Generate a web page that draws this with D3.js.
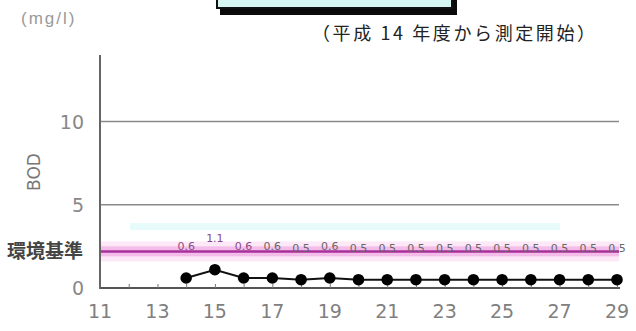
<!DOCTYPE html>
<html><head><meta charset="utf-8">
<script src="https://cdn.jsdelivr.net/npm/d3@7"></script>
<style>
html,body{margin:0;padding:0;background:#fff;}
svg{display:block;}
</style></head>
<body>
<script>
const years = [14,15,16,17,18,19,20,21,22,23,24,25,26,27,28,29];
const bod = [0.6,1.1,0.6,0.6,0.5,0.6,0.5,0.5,0.5,0.5,0.5,0.5,0.5,0.5,0.5,0.5];
const xTicks = [11,13,15,17,19,21,23,25,27,29];
const yTicks = [0,5,10];
const gridValues = [5,10];
const standard = 2.2;
const unitLabel = "(mg/l)";
const yTitle = "BOD";
const standardLabel = "環境基準";
const note = "（平成 14 年度から測定開始）";

const W = 636, H = 331;
const svg = d3.select("body").append("svg").attr("width", W).attr("height", H);

const x = d3.scaleLinear().domain([11,29]).range([100,617]);
const y = d3.scaleLinear().domain([0,14]).range([288,55]);

// title box (cut off at top)
svg.append("rect").attr("x",220).attr("y",-10).attr("width",237).attr("height",25).attr("fill","#0a0a0a");
svg.append("rect").attr("x",217).attr("y",-10).attr("width",235).attr("height",18)
  .attr("fill","#d6f6f2").attr("stroke","#111").attr("stroke-width",2);

// unit
svg.append("text").attr("x",21).attr("y",24).text(unitLabel)
  .attr("font-family","Liberation Sans, sans-serif").attr("font-size",17).attr("letter-spacing",2).attr("fill","#999");

// note
svg.append("text").attr("x",312).attr("y",40).text(note)
  .attr("font-family","Noto Sans CJK JP").attr("font-size",18).attr("letter-spacing",2.6).attr("fill","#222");

// faint background band
svg.append("rect").attr("x",130).attr("width",430).attr("y",y(3.9)).attr("height",7).attr("fill","#e8fbfb");

// grid lines
svg.selectAll(".grid").data(gridValues).enter().append("line")
  .attr("x1",x(11)).attr("x2",x(29)+2).attr("y1",d=>y(d)).attr("y2",d=>y(d))
  .attr("stroke","#8a8a8a").attr("stroke-width",1.5);

// environmental standard
svg.append("rect").attr("x",x(11)).attr("width",x(29)-x(11)+2).attr("y",y(standard)-10).attr("height",20).attr("fill","#fde8f8");
svg.append("rect").attr("x",x(11)).attr("width",x(29)-x(11)+2).attr("y",y(standard)-5).attr("height",10).attr("fill","#f4bde9");
svg.append("line").attr("x1",x(11)).attr("x2",x(29)+2).attr("y1",y(standard)).attr("y2",y(standard))
  .attr("stroke","#a8309a").attr("stroke-width",2.5);
svg.append("text").attr("x",7).attr("y",y(standard)+7).text(standardLabel)
  .attr("font-family","Noto Sans CJK JP").attr("font-weight","bold").attr("font-size",19).attr("fill","#444");

// axes
const xAxis = d3.axisBottom(x).tickValues(d3.range(11,30)).tickSize(-4).tickFormat("");
svg.append("g").attr("transform",`translate(0,${y(0)})`).call(xAxis)
  .call(g=>{g.select(".domain").attr("stroke","#555").attr("stroke-width",2).attr("d",`M${x(11)},0H${x(29)+3}`);
           g.selectAll(".tick line").attr("stroke","#777");});
svg.append("line").attr("x1",x(11)).attr("x2",x(11)).attr("y1",y(14)).attr("y2",y(0)+1)
  .attr("stroke","#666").attr("stroke-width",2);

svg.selectAll(".xl").data(xTicks).enter().append("text")
  .attr("x",d=>x(d)).attr("y",318).attr("text-anchor","middle").text(d=>d)
  .attr("font-family","DejaVu Sans, sans-serif").attr("font-size",19).attr("fill","#808080");

svg.selectAll(".yl").data(yTicks).enter().append("text")
  .attr("x",84).attr("y",d=>y(d)+7).attr("text-anchor","end").text(d=>d)
  .attr("font-family","DejaVu Sans, sans-serif").attr("font-size",19).attr("fill","#888");

svg.append("text").attr("transform",`translate(40,172) rotate(-90)`).attr("text-anchor","middle")
  .text(yTitle).attr("font-family","DejaVu Sans, sans-serif").attr("font-size",17).attr("fill","#777");

// data line
const pts = years.map((d,i)=>({x:d, v:bod[i]}));
svg.append("path").datum(pts)
  .attr("d", d3.line().x(d=>x(d.x)).y(d=>y(d.v)))
  .attr("fill","none").attr("stroke","#111").attr("stroke-width",2);
svg.selectAll(".pt").data(pts).enter().append("circle")
  .attr("cx",d=>x(d.x)).attr("cy",d=>y(d.v)).attr("r",5.8).attr("fill","#000");

// value labels
svg.selectAll(".vl").data(pts).enter().append("text")
  .attr("x",d=>x(d.x)).attr("y",d=>y(d.v)-28).attr("text-anchor","middle")
  .text(d=>d.v.toFixed(1))
  .attr("font-family","DejaVu Sans, sans-serif").attr("font-size",11).attr("fill",(d,i)=>i<3?"#8a4a88":"#666");
</script>
</body></html>
